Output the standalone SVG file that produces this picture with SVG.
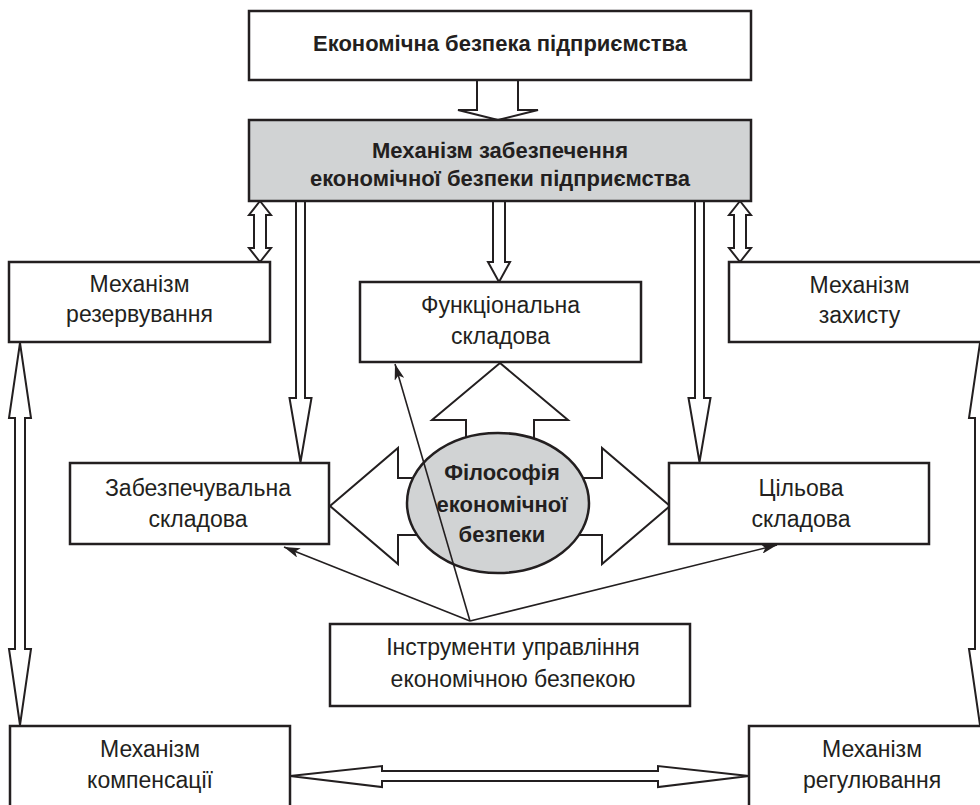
<svg xmlns="http://www.w3.org/2000/svg" width="980" height="805" viewBox="0 0 980 805">
<defs>
<style>
.box{fill:#fff;stroke:#231f20;stroke-width:2.5}
.grey{fill:#d1d3d4;stroke:#231f20;stroke-width:2.5}
.harrow{fill:#fff;stroke:#231f20;stroke-width:2;stroke-linejoin:miter}
.thin{fill:none;stroke:#231f20;stroke-width:1.6;marker-end:url(#ah)}
text{font-family:"Liberation Sans",Arial,sans-serif;font-size:23px;fill:#231f20;text-anchor:middle}
.b{font-weight:bold;font-size:22px}
</style>
<marker id="ah" viewBox="0 0 16 10" refX="16" refY="5" markerWidth="16" markerHeight="10" markerUnits="userSpaceOnUse" orient="auto">
<path d="M0,0 L16,5 L0,10 L4,5 Z" fill="#231f20"/>
</marker>
</defs>
<rect width="980" height="805" fill="#fff"/>

<g id="connectors">
<path class="harrow" d="M477,80 V110 H458 L498,120 L538,110 H518 V80"/>
<path class="harrow" d="M260,201 L249,215 H254 V248 H249 L260,262 L271,248 H266 V215 H271 Z"/>
<path class="harrow" d="M740,201 L729,215 H734 V248 H729 L740,262 L751,248 H746 V215 H751 Z"/>
<path class="harrow" d="M493,201 V262 H488 L499,282 L510,262 H505 V201"/>
<path class="harrow" d="M296,201 V398 H289.5 L300.5,462 L311.5,398 H305 V201"/>
<path class="harrow" d="M695,201 V398 H688.5 L699.5,462 L710.5,398 H704 V201"/>
<path class="harrow" d="M20,343 L9,418 H15 V649 H9 L20,725 L31,649 H25 V418 H31 Z"/>
<path class="harrow" d="M980,343 L969,418 H975 V649 H969 L980,725 L991,649 H985 V418 H991 Z"/>
<path class="harrow" d="M290,776 L382,766 V771 H658 V766 L749,776 L658,787 V781 H382 V787 Z"/>
<path class="harrow" d="M466,455 V420 H432 L500,363 L568,420 H534 V455"/>
<path class="harrow" d="M430,478 H398 V448 L330,506 L398,564 V535 H430"/>
<path class="harrow" d="M570,478 H602 V448 L670,506 L602,564 V535 H570"/>
</g>

<g id="n-title">
<rect class="box" x="249" y="11" width="502" height="69"/>
<text class="b" x="500" y="51">Економічна безпека підприємства</text>
</g>
<g id="n-mechanism">
<rect class="grey" x="249" y="120" width="502" height="81"/>
<text class="b" x="500" y="158">Механізм забезпечення</text>
<text class="b" x="500" y="186">економічної безпеки підприємства</text>
</g>
<g id="n-reserve">
<rect class="box" x="9" y="262" width="261" height="80"/>
<text x="139.5" y="292">Механізм</text>
<text x="139.5" y="322">резервування</text>
</g>
<g id="n-protect">
<rect class="box" x="729" y="262" width="270" height="80"/>
<text x="859.5" y="293">Механізм</text>
<text x="859.5" y="323">захисту</text>
</g>
<g id="n-functional">
<rect class="box" x="360" y="282" width="281" height="80"/>
<text x="500.5" y="313">Функціональна</text>
<text x="500.5" y="344">складова</text>
</g>
<g id="n-support">
<rect class="box" x="70" y="463" width="259" height="81"/>
<text x="198" y="496">Забезпечувальна</text>
<text x="198" y="527">складова</text>
</g>
<g id="n-target">
<rect class="box" x="669" y="463" width="260" height="81"/>
<text x="801" y="496">Цільова</text>
<text x="801" y="527">складова</text>
</g>
<g id="n-philosophy">
<ellipse cx="498" cy="503" rx="91" ry="70" fill="#d1d3d4" stroke="#231f20" stroke-width="2.5"/>
<text class="b" x="502" y="480">Філософія</text>
<text class="b" x="502" y="512">економічної</text>
<text class="b" x="502" y="542">безпеки</text>
</g>
<g id="n-tools">
<rect class="box" x="330" y="624" width="360" height="82"/>
<text x="513" y="655">Інструменти управління</text>
<text x="513" y="687">економічною безпекою</text>
</g>
<g id="n-compensation">
<rect class="box" x="10" y="726" width="280" height="100"/>
<text x="150" y="757">Механізм</text>
<text x="150" y="788">компенсації</text>
</g>
<g id="n-regulation">
<rect class="box" x="749" y="726" width="260" height="100"/>
<text x="872" y="757">Механізм</text>
<text x="872" y="788">регулювання</text>
</g>

<g id="thin-connectors">
<path class="thin" d="M470,621 L395,364"/>
<path class="thin" d="M470,621 L284,547"/>
<path class="thin" d="M470,621 L777,545"/>
</g>
</svg>
